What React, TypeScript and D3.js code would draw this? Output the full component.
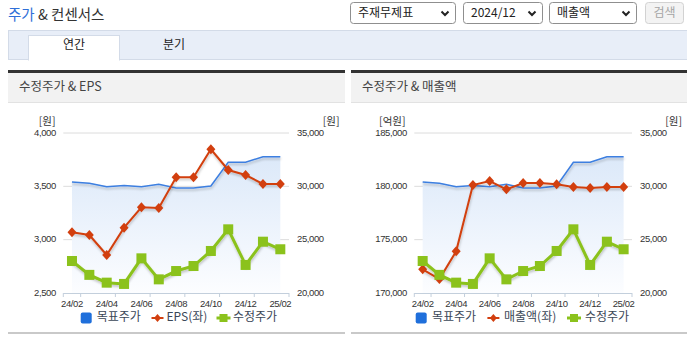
import React from 'react';
import * as d3 from 'd3';

const months = ['24/02', '24/03', '24/04', '24/05', '24/06', '24/07', '24/08', '24/09', '24/10', '24/11', '24/12', '25/01', '25/02'];
const tickMonths = ['24/02', '24/04', '24/06', '24/08', '24/10', '24/12', '25/02'];
const targetPrice = [30400, 30280, 29970, 30070, 29970, 30190, 29840, 29840, 30030, 32250, 32250, 32780, 32780];
const adjPrice = [23000, 21700, 20970, 20850, 23250, 21280, 22060, 22530, 23940, 25970, 22630, 24810, 24100];
const eps = [3069, 3044, 2856, 3112, 3303, 3297, 3585, 3585, 3847, 3653, 3606, 3522, 3522];
const sales = [172220, 171310, 173910, 180120, 180500, 179720, 180310, 180310, 180190, 179940, 179840, 179940, 179940];
const epsTicks = [2500, 3000, 3500, 4000];
const salesTicks = [170000, 175000, 180000, 185000];
const priceTicks = [20000, 25000, 30000, 35000];

const KR = "'Noto Sans CJK KR', 'Noto Sans', sans-serif";
const NUM = "'Liberation Sans', Arial, sans-serif";
const BLUE = '#3d7fe0';
const RED = '#d23f0f';
const GREEN = '#8bc21c';
const fmt = d3.format(',');

type PanelProps = {
  id: string;
  px0: number;
  px1: number;
  title: string;
  ax0: number;
  ax1: number;
  leftUnit: string;
  leftUnitRight: number;
  rightUnitRight: number;
  leftTicks: number[];
  leftValues: number[];
  leftName: string;
  legend: { sq: number; t1: number; red: number; t2: number; green: number; t3: number };
};

const Y_TOP = 133;
const Y_BOT = 293;

function Panel(p: PanelProps) {
  const x = d3.scaleBand<string>().domain(months).range([p.ax0, p.ax1]);
  const cx = (m: string) => (x(m) as number) + x.bandwidth() / 2;
  const yL = d3.scaleLinear().domain([p.leftTicks[0], p.leftTicks[p.leftTicks.length - 1]]).range([Y_BOT, Y_TOP]);
  const yR = d3.scaleLinear().domain([priceTicks[0], priceTicks[priceTicks.length - 1]]).range([Y_BOT, Y_TOP]);

  const area = d3.area<number>().x((_, i) => cx(months[i])).y0(Y_BOT).y1((d) => yR(d));
  const lineR = d3.line<number>().x((_, i) => cx(months[i])).y((d) => yR(d));
  const lineL = d3.line<number>().x((_, i) => cx(months[i])).y((d) => yL(d));
  const bw = x.bandwidth();
  const tickXs = [p.ax0, ...d3.range(1, months.length + 1, 2).map((k) => p.ax0 + k * bw)];
  const ly = 318;

  return (
    <g>
      {/* panel frame */}
      <rect x={p.px0} y={70} width={p.px1 - p.px0} height={3} fill="#333" />
      <rect x={p.px0} y={73} width={p.px1 - p.px0} height={29} fill="#f2f2f2" />
      <rect x={p.px0} y={102} width={p.px1 - p.px0} height={1} fill="#e2e2e2" />
      <text x={p.px0 + 11} y={88} dominantBaseline="middle" fontFamily={KR} fontSize={12.5} fill="#444">{p.title}</text>
      <rect x={p.px0} y={332} width={p.px1 - p.px0} height={2} fill="#c9c9c9" />

      <defs>
        <linearGradient id={`grad-${p.id}`} x1="0" y1={Y_TOP} x2="0" y2={Y_BOT} gradientUnits="userSpaceOnUse">
          <stop offset="0" stopColor="#d6e5f8" />
          <stop offset="1" stopColor="#fcfdff" />
        </linearGradient>
      </defs>

      {/* grid */}
      {p.leftTicks.slice(1).map((t) => (
        <line key={t} x1={p.ax0} x2={p.ax1} y1={yL(t)} y2={yL(t)} stroke="#dcdcdc" strokeWidth={1} />
      ))}

      {/* area + target price */}
      <path d={area(targetPrice) as string} fill={`url(#grad-${p.id})`} />
      <path d={lineR(targetPrice) as string} fill="none" stroke={BLUE} strokeWidth={1.5} filter="url(#shadow)" />

      {/* x axis */}
      <line x1={p.ax0} x2={p.ax1} y1={Y_BOT + 0.5} y2={Y_BOT + 0.5} stroke="#c3cfdc" strokeWidth={1} />
      {tickXs.map((tx, i) => (
        <line key={i} x1={tx} x2={tx} y1={Y_BOT} y2={Y_BOT + 4} stroke="#c3cfdc" strokeWidth={1} />
      ))}
      {tickMonths.map((m) => (
        <text key={m} x={cx(m)} y={304} textAnchor="middle" dominantBaseline="middle" fontFamily={NUM} fontSize={9.5} letterSpacing={-0.4} fill="#333">{m}</text>
      ))}

      {/* y labels */}
      {p.leftTicks.map((t) => (
        <text key={t} x={p.ax0 - 7.5} y={yL(t)} textAnchor="end" dominantBaseline="middle" fontFamily={NUM} fontSize={9.5} letterSpacing={-0.4} fill="#333">{fmt(t)}</text>
      ))}
      {priceTicks.map((t) => (
        <text key={t} x={p.ax1 + 8} y={yR(t)} textAnchor="start" dominantBaseline="middle" fontFamily={NUM} fontSize={9.5} letterSpacing={-0.4} fill="#333">{fmt(t)}</text>
      ))}
      <text x={p.leftUnitRight} y={122} textAnchor="end" dominantBaseline="middle" fontFamily={KR} fontSize={10.5} fill="#333">{p.leftUnit}</text>
      <text x={p.rightUnitRight} y={122} textAnchor="end" dominantBaseline="middle" fontFamily={KR} fontSize={10.5} fill="#333">[원]</text>

      {/* left series (red) */}
      <path d={lineL(p.leftValues) as string} fill="none" stroke={RED} strokeWidth={2} filter="url(#shadow)" />
      {p.leftValues.map((v, i) => {
        const X = cx(months[i]);
        const Y = yL(v);
        return <path key={i} d={`M${X},${Y - 5}L${X + 4.5},${Y}L${X},${Y + 5}L${X - 4.5},${Y}Z`} fill={RED} />;
      })}

      {/* adjusted price (green) */}
      <path d={lineR(adjPrice) as string} fill="none" stroke={GREEN} strokeWidth={3} filter="url(#shadow)" />
      {adjPrice.map((v, i) => (
        <rect key={i} x={cx(months[i]) - 5} y={yR(v) - 5} width={10} height={10} fill={GREEN} />
      ))}

      {/* legend */}
      <rect x={p.legend.sq} y={ly - 5.5} width={11} height={11} rx={2} fill="#1f6fdb" />
      <text x={p.legend.t1} y={ly} dominantBaseline="middle" fontFamily={KR} fontSize={12} fill="#3b4757">목표주가</text>
      <line x1={p.legend.red - 6} x2={p.legend.red + 6} y1={ly} y2={ly} stroke={RED} strokeWidth={2} />
      <path d={`M${p.legend.red},${ly - 4}L${p.legend.red + 3.5},${ly}L${p.legend.red},${ly + 4}L${p.legend.red - 3.5},${ly}Z`} fill={RED} />
      <text x={p.legend.t2} y={ly} dominantBaseline="middle" fontFamily={KR} fontSize={12} fill="#3b4757">{p.leftName}</text>
      <line x1={p.legend.green - 7} x2={p.legend.green + 7} y1={ly} y2={ly} stroke={GREEN} strokeWidth={3} />
      <rect x={p.legend.green - 4} y={ly - 4} width={8} height={8} fill={GREEN} />
      <text x={p.legend.t3} y={ly} dominantBaseline="middle" fontFamily={KR} fontSize={12} fill="#3b4757">수정주가</text>
    </g>
  );
}

function Select({ x, w, label }: { x: number; w: number; label: string }) {
  const cxv = x + w - 10;
  return (
    <g>
      <rect x={x + 0.5} y={2.5} width={w} height={21} rx={3} fill="#fff" stroke="#8f8f8f" />
      <text x={x + 8} y={13.5} dominantBaseline="middle" fontFamily={KR} fontSize={12} fill="#222">{label}</text>
      <path d={`M${cxv - 3.5},${11.5}L${cxv},${15}L${cxv + 3.5},${11.5}`} fill="none" stroke="#222" strokeWidth={2} />
    </g>
  );
}

export default function App() {
  return (
    <svg width={687} height={341} style={{ position: 'absolute', left: 0, top: 0, background: '#fff' }}>
      <defs>
        <filter id="shadow" x="-10%" y="-20%" width="120%" height="150%">
          <feDropShadow dx={0.5} dy={2} stdDeviation={1.2} floodColor="#000" floodOpacity={0.22} />
        </filter>
      </defs>

      {/* header */}
      <text x={8} y={15.5} dominantBaseline="middle" fontFamily={KR} fontSize={14.5} fill="#333">
        <tspan fill="#2f6fd8">주가</tspan>
        <tspan> &amp; 컨센서스</tspan>
      </text>
      <Select x={350} w={105} label="주재무제표" />
      <Select x={463} w={79} label="2024/12" />
      <Select x={549} w={87} label="매출액" />
      <rect x={645.5} y={2.5} width={38} height={21} rx={3} fill="#f3f3f3" stroke="#d2d2d2" />
      <text x={664.5} y={13.5} textAnchor="middle" dominantBaseline="middle" fontFamily={KR} fontSize={12} fill="#a5a5a5">검색</text>

      {/* tabs */}
      <rect x={8.5} y={30.5} width={680} height={29} fill="#e8eef8" stroke="#d3dbe8" />
      <rect x={28.5} y={35.5} width={91} height={24.5} fill="#fff" stroke="#d3dbe8" />
      <rect x={29} y={59} width={90} height={2} fill="#fff" />
      <text x={74} y={46} textAnchor="middle" dominantBaseline="middle" fontFamily={KR} fontSize={12} fill="#222">연간</text>
      <text x={174} y={46} textAnchor="middle" dominantBaseline="middle" fontFamily={KR} fontSize={12} fill="#222">분기</text>

      <Panel
        id="eps"
        px0={8}
        px1={345}
        title="수정주가 & EPS"
        ax0={63.3}
        ax1={289}
        leftUnit="[원]"
        leftUnitRight={55.5}
        rightUnitRight={339.5}
        leftTicks={epsTicks}
        leftValues={eps}
        leftName="EPS(좌)"
        legend={{ sq: 80.7, t1: 96.7, red: 157.5, t2: 166.5, green: 223.5, t3: 233 }}
      />
      <Panel
        id="sales"
        px0={351}
        px1={687}
        title="수정주가 & 매출액"
        ax0={414.3}
        ax1={632}
        leftUnit="[억원]"
        leftUnitRight={405.5}
        rightUnitRight={682}
        leftTicks={salesTicks}
        leftValues={sales}
        leftName="매출액(좌)"
        legend={{ sq: 415.7, t1: 432, red: 493.4, t2: 504, green: 574, t3: 585 }}
      />
    </svg>
  );
}
